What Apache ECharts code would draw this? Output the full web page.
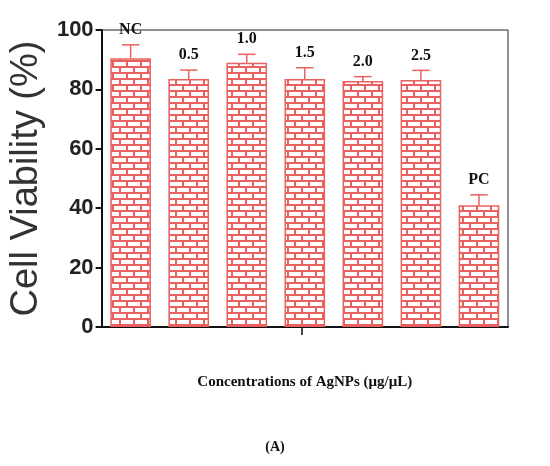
<!DOCTYPE html><html><head><meta charset="utf-8">
<script src="https://cdn.jsdelivr.net/npm/echarts@6/dist/echarts.min.js"></script>
<style>body{margin:0;background:#fff}#c{width:550px;height:466px}</style></head><body><div id="c"></div>
<script>
const categories=['NC','0.5','1.0','1.5','2.0','2.5','PC'];
const values=[90.5,83.5,89,83.5,82.8,83.2,41];
const errors=[4.5,3,2.8,3.8,1.5,3.2,3.5];
const yTicks=[0,20,40,60,80,100];
const red='#e8615f';
const cv=document.createElement('canvas');cv.width=14;cv.height=12;
const g=cv.getContext('2d');g.fillStyle='#fff';g.fillRect(0,0,14,12);
g.fillStyle=red;g.fillRect(0,0,14,2);g.fillRect(0,6,14,2);g.fillRect(0,2,2,4);g.fillRect(7,8,2,4);
const chart=echarts.init(document.getElementById('c'));
chart.setOption({
 animation:false,
 grid:{left:95,right:42,top:30,bottom:139,show:true,borderColor:'#222',borderWidth:1},
 xAxis:{type:'category',data:categories,axisLabel:{show:false},axisTick:{show:false},axisLine:{lineStyle:{color:'#111',width:2}},
  name:'Concentrations of AgNPs (μg/μL)',nameLocation:'middle',nameGap:48,nameTextStyle:{fontFamily:'Liberation Serif',fontWeight:'bold',fontSize:15,color:'#111'}},
 yAxis:{type:'value',min:0,max:100,interval:20,axisLine:{show:true,lineStyle:{color:'#111',width:2}},axisTick:{show:true,length:6,lineStyle:{color:'#111',width:2}},splitLine:{show:false},
  axisLabel:{fontFamily:'Liberation Sans',fontWeight:'bold',fontSize:22,color:'#222',margin:8},
  name:'Cell Viability (%)',nameLocation:'middle',nameGap:52,nameTextStyle:{fontFamily:'Liberation Sans',fontSize:38,color:'#333'}},
 graphic:[{type:'text',left:'center',top:440,style:{text:'(A)',font:'bold 14px "Liberation Serif"',fill:'#111'}},
  {type:'line',shape:{x1:302,y1:327,x2:302,y2:335},style:{stroke:'#111',lineWidth:1.5}}],
 series:[{type:'bar',data:values,barWidth:'70%',itemStyle:{color:{image:cv,repeat:'repeat'},borderColor:red,borderWidth:1.5}},
 {type:'custom',data:values.map((v,i)=>[i,v,errors[i]]),z:5,
  renderItem:(p,api)=>{const x=api.value(0),v=api.value(1),e=api.value(2);
   const b=api.coord([x,v]),t=api.coord([x,v+e]);const w=api.size([1,0])[0]*0.3;
   return {type:'group',children:[
    {type:'line',shape:{x1:b[0],y1:b[1],x2:t[0],y2:t[1]},style:{stroke:red,lineWidth:1.5}},
    {type:'line',shape:{x1:t[0]-w/2,y1:t[1],x2:t[0]+w/2,y2:t[1]},style:{stroke:red,lineWidth:1.5}},
    {type:'text',x:t[0],y:t[1]-7,style:{text:categories[x],font:'bold 16px "Liberation Serif"',fill:'#111',align:'center',verticalAlign:'bottom'}}]};}}]
});
</script></body></html>
